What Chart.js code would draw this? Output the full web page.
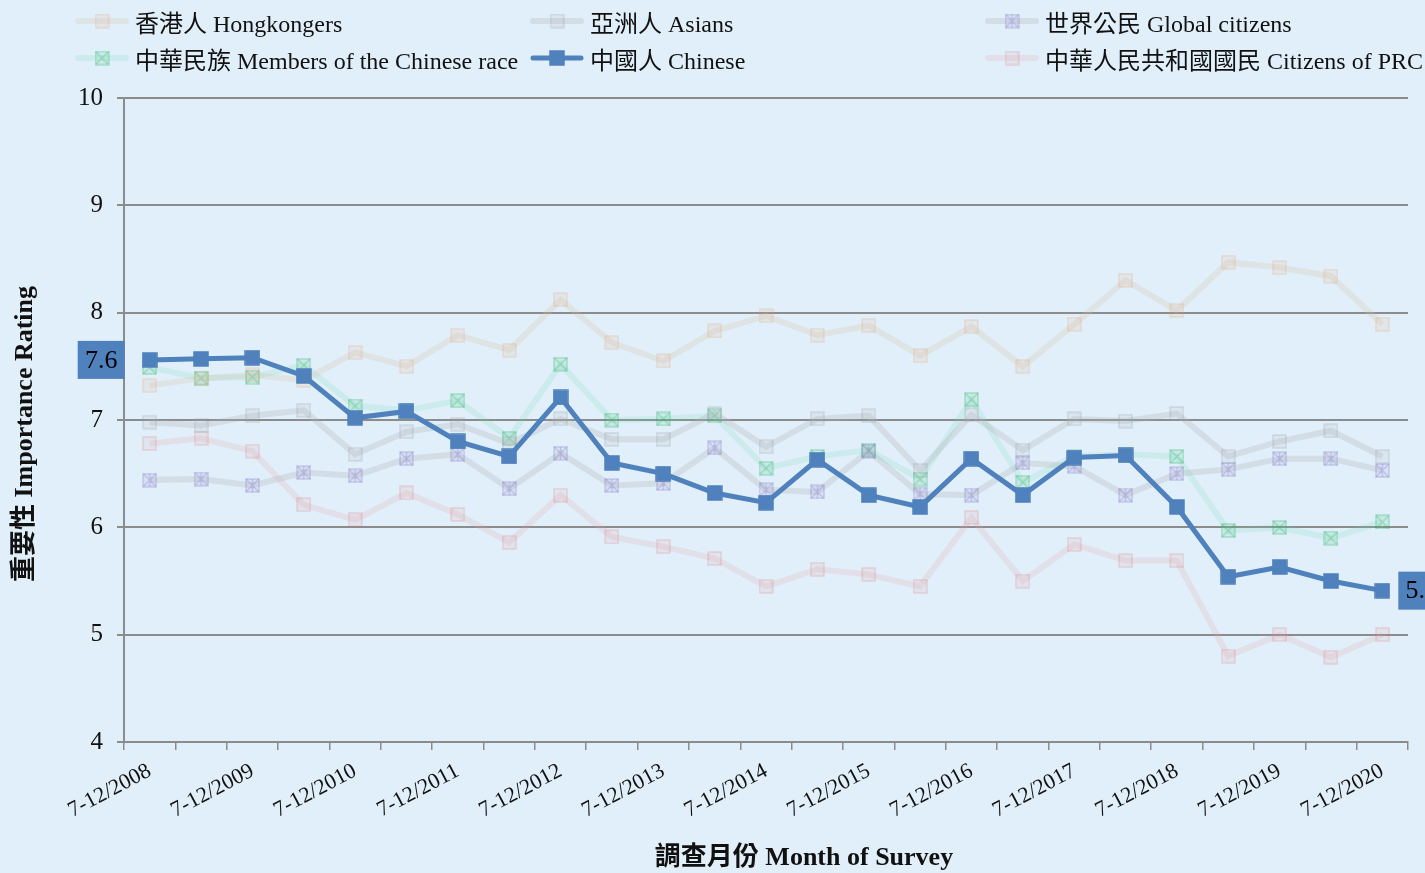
<!DOCTYPE html>
<html>
<head>
<meta charset="utf-8">
<script src="https://cdn.jsdelivr.net/npm/chart.js@4.4.1/dist/chart.umd.min.js"></script>
<style>
  body { margin: 0; background: #e1effa; }
  #wrap { position: relative; width: 1425px; height: 873px; background: #e1effa; }
  #chart { position: absolute; left: 0; top: 0; }
  .item { position: absolute; height: 26px; display: flex; align-items: center;
          font: 24px "Liberation Serif", "Noto Sans CJK TC", serif; color: #111; white-space: nowrap; }
  .item canvas { margin-right: 6px; }
</style>
</head>
<body>
<div id="wrap">
  <canvas id="chart" width="1425" height="873"></canvas>
  <div id="legend"></div>
</div>
<script>
// half-year survey periods
const periods = [
  '7-12/2008', '1-6/2009', '7-12/2009', '1-6/2010', '7-12/2010', '1-6/2011', '7-12/2011',
  '1-6/2012', '7-12/2012', '1-6/2013', '7-12/2013', '1-6/2014', '7-12/2014', '1-6/2015',
  '7-12/2015', '1-6/2016', '7-12/2016', '1-6/2017', '7-12/2017', '1-6/2018', '7-12/2018',
  '1-6/2019', '7-12/2019', '1-6/2020', '7-12/2020'
];

const hongkongers = [7.32, 7.39, 7.42, 7.37, 7.63, 7.50, 7.79, 7.65, 8.12, 7.72, 7.55, 7.83, 7.97,
                     7.79, 7.88, 7.60, 7.87, 7.50, 7.89, 8.30, 8.02, 8.47, 8.42, 8.34, 7.89];
const asians = [6.98, 6.95, 7.04, 7.09, 6.68, 6.89, 6.96, 6.78, 7.01, 6.82, 6.82, 7.06, 6.75,
                7.01, 7.04, 6.53, 7.05, 6.72, 7.01, 6.99, 7.06, 6.66, 6.80, 6.90, 6.66];
const globalCitizens = [6.44, 6.45, 6.39, 6.51, 6.48, 6.64, 6.68, 6.36, 6.69, 6.39, 6.41, 6.74, 6.35,
                        6.33, 6.71, 6.31, 6.30, 6.60, 6.57, 6.30, 6.50, 6.54, 6.64, 6.64, 6.53];
const chineseRace = [7.49, 7.39, 7.40, 7.51, 7.13, 7.09, 7.18, 6.83, 7.52, 7.00, 7.01, 7.04, 6.55,
                     6.66, 6.72, 6.45, 7.19, 6.42, 6.66, 6.68, 6.66, 5.97, 6.00, 5.90, 6.05];
const chinese = [7.56, 7.57, 7.58, 7.41, 7.02, 7.08, 6.80, 6.66, 7.21, 6.60, 6.50, 6.32, 6.23,
                 6.63, 6.30, 6.19, 6.64, 6.30, 6.65, 6.67, 6.19, 5.54, 5.63, 5.50, 5.41];
const prcCitizens = [6.78, 6.83, 6.71, 6.21, 6.07, 6.32, 6.12, 5.86, 6.30, 5.91, 5.82, 5.71, 5.45,
                     5.61, 5.56, 5.45, 6.09, 5.50, 5.84, 5.69, 5.69, 4.80, 5.00, 4.79, 5.00];

const yTicks = [4, 5, 6, 7, 8, 9, 10];

const FONT = '"Liberation Serif", "Noto Sans CJK TC", serif';
const xTitle = '調查月份 Month of Survey';
const yTitle = '重要性 Importance Rating';

// little square markers, some with an x or an asterisk inside
function marker(size, stroke, fill, cross, plus) {
  const c = document.createElement('canvas');
  c.width = c.height = size + 2;
  const g = c.getContext('2d');
  const a = 1, b = size + 1;
  g.fillStyle = fill;
  g.fillRect(a, a, size, size);
  g.strokeStyle = stroke;
  g.lineWidth = 1.5;
  g.strokeRect(a, a, size, size);
  g.beginPath();
  if (cross) { g.moveTo(a, a); g.lineTo(b, b); g.moveTo(b, a); g.lineTo(a, b); }
  if (plus) { const m = (a + b) / 2; g.moveTo(m, a); g.lineTo(m, b); }
  g.stroke();
  return c;
}

const series = [
  { label: '香港人 Hongkongers', data: hongkongers, line: 'rgba(215,195,165,0.26)',
    pt: marker(13, 'rgba(230,150,90,0.24)', 'rgba(230,160,110,0.1)') },
  { label: '亞洲人 Asians', data: asians, line: 'rgba(175,180,185,0.3)',
    pt: marker(13, 'rgba(150,155,165,0.28)', 'rgba(170,175,180,0.14)') },
  { label: '世界公民 Global citizens', data: globalCitizens, line: 'rgba(175,180,185,0.3)',
    pt: marker(13, 'rgba(120,100,190,0.28)', 'rgba(150,130,210,0.1)', true, true) },
  { label: '中華民族 Members of the Chinese race', data: chineseRace, line: 'rgba(110,215,180,0.18)',
    pt: marker(13, 'rgba(40,180,100,0.32)', 'rgba(80,200,130,0.14)', true) },
  { label: '中國人 Chinese', data: chinese, line: '#4f81bd', width: 5,
    pt: marker(14, '#4f81bd', '#4f81bd') },
  { label: '中華人民共和國國民 Citizens of PRC', data: prcCitizens, line: 'rgba(225,160,160,0.2)',
    pt: marker(13, 'rgba(225,110,110,0.24)', 'rgba(230,140,140,0.1)') }
];

const endLabels = {
  id: 'endLabels',
  afterDatasetsDraw(chart) {
    const meta = chart.getDatasetMeta(4);
    const ctx = chart.ctx;
    const last = meta.data.length - 1;
    ctx.save();
    ctx.font = '26px ' + FONT;
    ctx.textAlign = 'center';
    ctx.textBaseline = 'middle';
    [[0, -1], [last, 1]].forEach(([i, side]) => {
      const p = meta.data[i];
      const w = 47, h = 38;
      const x = side < 0 ? p.x - 25 - w : p.x + 16;
      ctx.fillStyle = '#4f81bd';
      ctx.fillRect(x, p.y - h / 2, w, h);
      ctx.fillStyle = '#000';
      ctx.fillText(chinese[i].toFixed(1), x + w / 2, p.y + 1);
    });
    ctx.restore();
  }
};

// axis titles sit a little off the plot centre in the original
const axisTitles = {
  id: 'axisTitles',
  afterDraw(chart) {
    const { ctx, chartArea: a } = chart;
    ctx.save();
    ctx.font = 'bold 26px ' + FONT;
    ctx.fillStyle = '#111';
    ctx.textAlign = 'center';
    ctx.textBaseline = 'middle';
    ctx.fillText(xTitle, (a.left + a.right) / 2 + 38, 858);
    ctx.translate(25, (a.top + a.bottom) / 2 + 14);
    ctx.rotate(-Math.PI / 2);
    ctx.fillText(yTitle, 0, 0);
    ctx.restore();
  }
};

new Chart(document.getElementById('chart'), {
  type: 'line',
  data: {
    labels: periods,
    datasets: series.map((s, i) => ({
      label: s.label,
      data: s.data,
      borderColor: s.line,
      borderWidth: s.width || 6,
      pointStyle: s.pt,
      pointRadius: 7,
      tension: 0,
      order: i === 4 ? 0 : 1
    }))
  },
  options: {
    responsive: false,
    animation: false,
    layout: { padding: { top: 98, right: 17, left: 0, bottom: 0 } },
    plugins: { legend: { display: false }, tooltip: { enabled: false } },
    scales: {
      x: {
        offset: true,
        afterFit: s => { s.height = 131; },
        grid: { drawOnChartArea: false, offset: true, tickLength: 8, color: '#8c8c8c', lineWidth: 1.5 },
        border: { color: '#8c8c8c', width: 2 },
        ticks: {
          autoSkip: false, maxRotation: 28, minRotation: 28, padding: 8,
          color: '#111', font: { family: FONT, size: 22 },
          callback: (v, i) => (i % 2 === 0 ? periods[i] : '')
        }
      },
      y: {
        min: 4, max: 10,
        afterFit: s => { s.width = 124; },
        afterBuildTicks: s => { s.ticks = yTicks.map(v => ({ value: v })); },
        grid: { color: '#8c8c8c', lineWidth: 2, tickLength: 7 },
        border: { color: '#8c8c8c', width: 2 },
        ticks: { color: '#111', padding: 14, font: { family: FONT, size: 25 } }
      }
    }
  },
  plugins: [endLabels, axisTitles]
});

// legend: three columns, two rows
const legendPos = [[75, 8], [530, 8], [985, 8], [75, 45], [530, 45], [985, 45]];
const legend = document.getElementById('legend');
series.forEach((s, n) => {
  const div = document.createElement('div');
  div.className = 'item';
  div.style.left = legendPos[n][0] + 'px';
  div.style.top = legendPos[n][1] + 'px';
  const sw = document.createElement('canvas');
  sw.width = 54; sw.height = 20;
  const g = sw.getContext('2d');
  g.strokeStyle = s.line;
  g.lineWidth = s.width || 6;
  g.lineCap = 'round';
  g.beginPath(); g.moveTo(3, 10); g.lineTo(51, 10); g.stroke();
  g.drawImage(s.pt, 27 - s.pt.width / 2, 10 - s.pt.height / 2);
  div.appendChild(sw);
  div.appendChild(document.createTextNode(s.label));
  legend.appendChild(div);
});
</script>
</body>
</html>
